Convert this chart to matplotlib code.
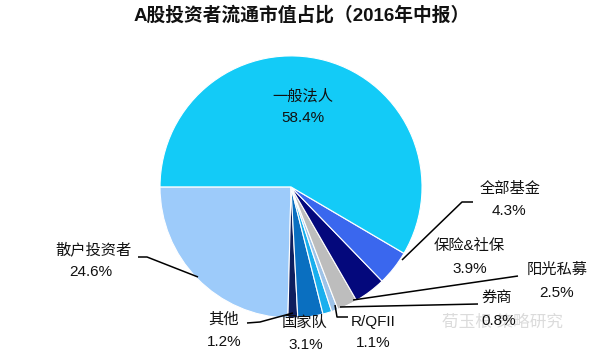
import matplotlib
matplotlib.use("Agg")
import matplotlib.pyplot as plt

plt.rcParams["font.family"] = ["Liberation Sans", "Noto Sans CJK SC", "DejaVu Sans"]

# ── Data (counter-clockwise from the left) ────────────────────────────────────
labels = ["散户投资者", "其他", "国家队", "R/QFII", "券商",
          "阳光私募", "保险&社保", "全部基金", "一般法人"]
shares = [24.6, 1.2, 3.1, 1.1, 0.8, 2.5, 3.9, 4.3, 58.4]
colors = ["#9DCBFA", "#0E1F5E", "#0A6FC0", "#19AFEE", "#9EC3E8",
          "#BDBDBD", "#04087C", "#3A67EE", "#13CBF7"]
explode = [0, 0, 0, 0, 0, 0, 0, 0, 0.095]
title = "A股投资者流通市值占比（2016年中报）"

W, H = 600, 357
fig = plt.figure(figsize=(6.0, 3.57), dpi=100)
ax = fig.add_axes([0, 0, 1, 1])


def py(y):
    # image y (top-down) to axis y
    return H - y


ax.pie(shares, colors=colors, explode=explode, startangle=180,
       counterclock=True, radius=131, center=(291, py(187)),
       wedgeprops=dict(edgecolor="white", linewidth=0.8))

ax.set_xlim(0, W)
ax.set_ylim(0, H)
ax.set_aspect("equal")
ax.axis("off")

# ── Labels ────────────────────────────────────────────────────────────────────
# name position, value position
label_pos = {
    "一般法人": ((303, 96), (303, 118)),
    "全部基金": ((510, 189), (509, 211)),
    "保险&社保": ((469, 246), (470, 269)),
    "阳光私募": ((557, 270), (557, 293)),
    "券商": ((497, 298), (499, 321)),
    "R/QFII": ((373, 322), (373, 343)),
    "国家队": ((305, 323), (306, 345)),
    "其他": ((224, 320), (224, 342)),
    "散户投资者": ((93, 250), (91, 272)),
}
for name, val in zip(labels, shares):
    (nx, ny), (vx, vy) = label_pos[name]
    ax.text(nx, py(ny), name, ha="center", va="center", fontsize=11,
            color="#111111")
    ax.text(vx, py(vy), f"{val:.1f}%", ha="center", va="center",
            fontsize=11, color="#111111", zorder=5)

# leader lines
leaders = [
    [(402, 260), (462, 202), (473, 202)],
    [(353, 300), (518, 276)],
    [(340, 307), (478, 304)],
    [(335, 305), (337, 317), (348, 317)],
    [(247, 323), (260, 322), (293, 313)],
    [(138, 257), (147, 257), (198, 277)],
]
for pts in leaders:
    ax.plot([p[0] for p in pts], [py(p[1]) for p in pts],
            color="black", linewidth=1.1, solid_capstyle="butt")

ax.text(302, py(15), title, ha="center", va="center", fontsize=13.5,
        fontweight="bold", color="#111111")

# faint watermark
ax.text(503, py(322), "荀玉根 策略研究", ha="center", va="center",
        fontsize=12, color="#D2D2D2", alpha=0.8, zorder=1)

fig.savefig("out.png", dpi=100)
